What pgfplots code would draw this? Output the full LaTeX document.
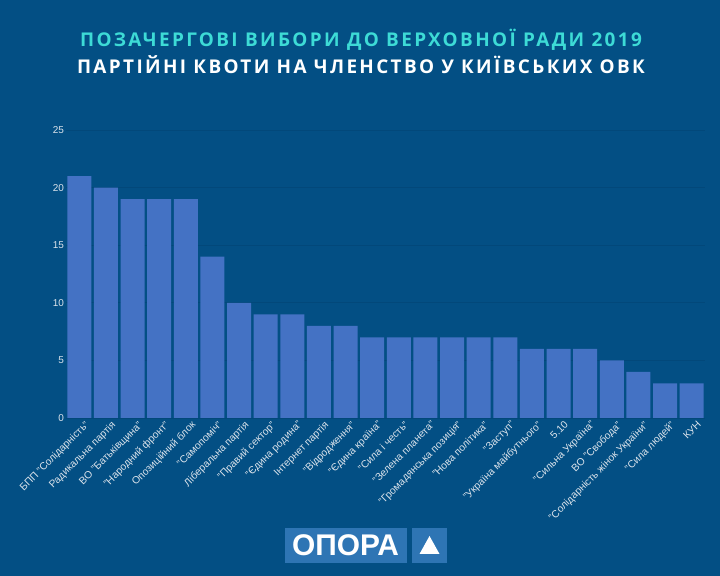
\documentclass[border=0pt]{standalone}
\usepackage{pgfplots}
\pgfplotsset{compat=1.18}
\usepackage{fontspec}
\setmainfont{Liberation Sans}
\newfontfamily\titlefont[LetterSpace=12.5]{Open Sans}
\definecolor{bg}{RGB}{3,79,132}
\definecolor{bar}{RGB}{68,114,196}
\definecolor{gridc}{RGB}{2,72,122}
\definecolor{tcyan}{RGB}{61,219,214}
\definecolor{lbl}{RGB}{220,228,236}
\definecolor{logo}{RGB}{46,117,180}
\begin{document}
\begin{tikzpicture}[x=1bp,y=1bp]
\fill[bg] (0,0) rectangle (720,576);
\useasboundingbox (0,0) rectangle (720,576);
\node[text=tcyan,font=\titlefont\bfseries\fontsize{19}{21}\selectfont] at (361,536) {ПОЗАЧЕРГОВІ ВИБОРИ ДО ВЕРХОВНОЇ РАДИ 2019};
\node[text=white,font=\titlefont\bfseries\fontsize{19}{21}\selectfont] at (361,511) {ПАРТІЙНІ КВОТИ НА ЧЛЕНСТВО У КИЇВСЬКИХ ОВК};
\begin{axis}[
  at={(66bp,158bp)}, anchor=south west,
  scale only axis, width=639bp, height=288bp,
  xmin=-0.5, xmax=23.5, ymin=0, ymax=25,
  axis line style={draw=none},
  ytick={0,5,10,15,20,25},
  ymajorgrids, grid style={gridc, line width=0.8pt},
  major tick length=0pt,
  xtick={0,...,23},
  xticklabels={БПП "Солідарність",Радикальна партія,ВО "Батьківщина","Народний фронт",Опозиційний блок,"Самопоміч",Ліберальна партія,"Правий сектор","Єдина родина",Інтернет партія,"Відродження","Єдина країна","Сила і честь","Зелена планета","Громадянська позиція","Нова політика","Заступ","Україна майбутнього",5.10,"Сильна Україна",ВО "Свобода","Солідарність жінок України","Сила людей",КУН},
  xticklabel style={rotate=45, anchor=north east, font=\fontsize{10.3}{12}\selectfont, text=lbl, inner sep=1pt, xshift=3bp, yshift=-4bp},
  yticklabel style={font=\fontsize{10}{12}\selectfont, text=lbl, xshift=1.5bp},
  /pgf/number format/assume math mode=true,
  ybar, bar width=24bp,
]
\addplot[fill=bar, draw=none] coordinates {
(0,21) (1,20) (2,19) (3,19) (4,19) (5,14) (6,10) (7,9) (8,9) (9,8) (10,8) (11,7) (12,7) (13,7) (14,7) (15,7) (16,7) (17,6) (18,6) (19,6) (20,5) (21,4) (22,3) (23,3)};
\end{axis}
\fill[logo] (285,13) rectangle (407,48);
\fill[logo] (412,13) rectangle (447,48);
\node[text=white,font=\bfseries\fontsize{30}{32}\selectfont] at (345.5,30.5) {ОПОРА};
\fill[white] (419.5,22) -- (439.5,22) -- (429.5,40) -- cycle;
\end{tikzpicture}
\end{document}
